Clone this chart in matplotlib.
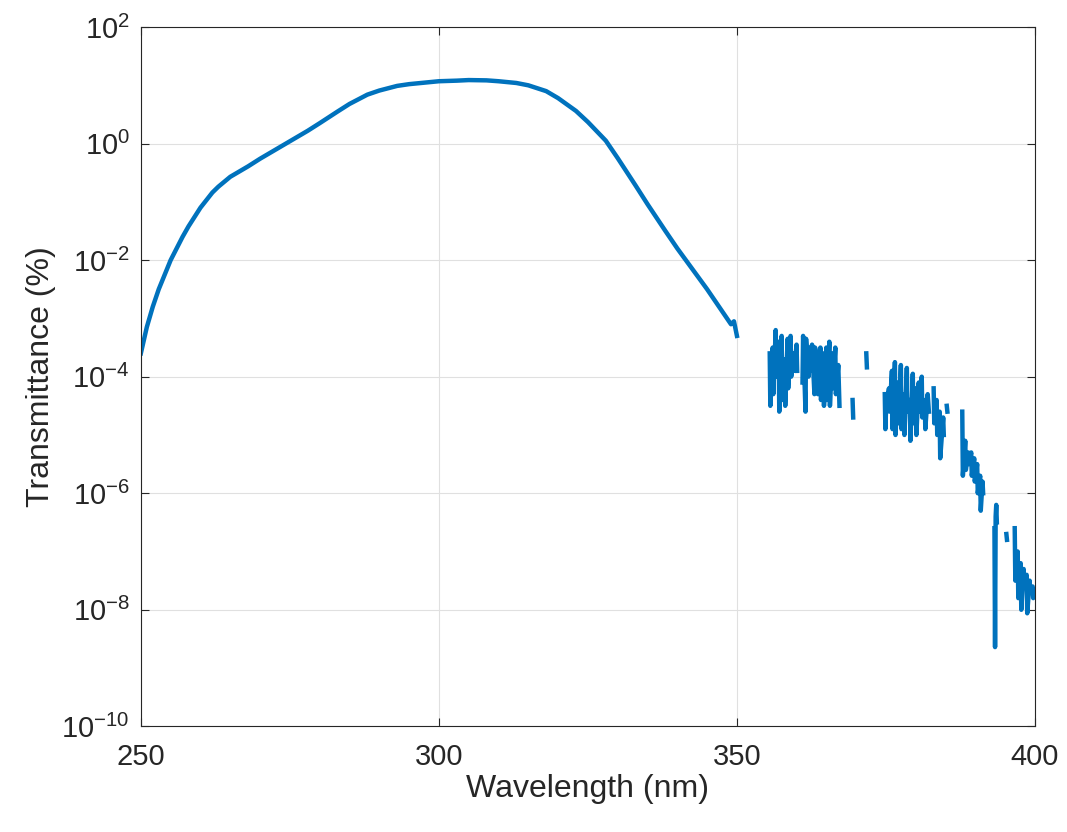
import numpy as np
import matplotlib.pyplot as plt

plt.rcParams['font.family'] = ['Liberation Sans', 'DejaVu Sans']

nan = np.nan

# smooth part, wavelength (nm) and log10 transmittance (%)
wl_main = [250, 251, 252, 253, 255, 257, 258, 260, 262, 263, 265, 268, 270, 273, 275, 278,
           280, 283, 285, 288, 290, 293, 295, 298, 300, 303, 305, 308, 310, 313, 315, 318,
           320, 323, 325, 328, 330, 333, 335, 338, 340, 343, 345, 347, 348, 349, 349.5, 350]
log_main = [-3.6, -3.15, -2.8, -2.5, -2.0, -1.6, -1.42, -1.1, -0.84, -0.74, -0.57, -0.39,
            -0.26, -0.08, 0.04, 0.22, 0.35, 0.55, 0.68, 0.84, 0.91, 0.99, 1.02, 1.05, 1.07,
            1.08, 1.09, 1.085, 1.07, 1.04, 1.0, 0.9, 0.78, 0.56, 0.37, 0.05, -0.25, -0.72,
            -1.04, -1.5, -1.8, -2.22, -2.5, -2.8, -2.95, -3.1, -3.05, -3.3]

# noisy tail, NaN marks gaps (non-positive readings)
wl_tail = [355.5, 355.6, 356, 356.1, 356.5, 356.6, 357, 357.1, 357.5, 357.6, 358, 358.1,
           358.5, 358.6, 359, 359.1, 359.5, 359.6, 360, 360.1, 360.5,
           361, 361.1, 361.5, 361.6, 362, 362.1, 362.5, 362.6, 363, 363.1, 363.5, 363.6,
           364, 364.1, 364.5, 364.6, 365, 365.1, 365.5, 365.6, 366, 366.1, 366.5, 366.6, 367, 367.2,
           367.5, 369.4, 369.5, 369.6, 371.7, 371.8, 371.9,
           374.8, 374.9, 375, 375.1, 375.5, 375.6, 376, 376.1, 376.5, 376.6, 377, 377.1, 377.5,
           377.6, 378, 378.1, 378.5, 378.6, 379, 379.1, 379.5, 379.6, 380, 380.1, 380.5, 380.6,
           381, 381.1, 381.5, 381.6, 382, 382.2, 382.5,
           383, 383.1, 383.5, 383.6, 384, 384.1, 384.6, 384.7, 384.9, 385.2, 385.3, 385.4,
           387.8, 387.9, 388.3, 388.4, 388.8, 388.9, 389.3, 389.4, 389.8, 389.9, 390.3, 390.4,
           390.8, 390.9, 391.2, 391.3, 392,
           393.2, 393.3, 393.4, 393.5, 393.6, 394, 395.2, 395.3, 395.4,
           396.6, 396.7, 397.1, 397.2, 397.6, 397.7, 398.1, 398.2, 398.6, 398.7, 399.1, 399.2,
           399.6, 399.7, 400]
log_tail = [-3.6, -4.5, -3.5, -4.3, -3.2, -4.0, -3.4, -4.6, -3.3, -4.4, -3.7, -4.5, -3.35,
            -4.2, -3.3, -4.0, -3.6, -3.9, -3.45, -3.9, nan,
            -4.1, -3.3, -4.6, -3.35, -4.0, -3.5, -3.9, -3.45, -4.3, -3.5, -3.7, -4.3, -3.5,
            -4.4, -3.6, -4.5, -3.5, -4.4, -3.4, -4.5, -3.6, -4.2, -3.5, -4.3, -3.8, -4.5,
            nan, -4.4, -4.7, nan, -3.6, -3.84, nan,
            -4.3, -4.9, -4.6, -4.5, -4.2, -4.6, -3.9, -4.9, -3.75, -5.0, -4.1, -4.8, -3.8,
            -4.9, -4.3, -5.0, -3.85, -4.6, -4.4, -5.1, -3.95, -4.8, -4.2, -5.0, -4.1, -4.6,
            -4.0, -4.7, -4.4, -4.9, -4.3, -4.6, nan,
            -4.2, -4.8, -4.4, -5.0, -4.6, -5.4, -4.7, -5.0, nan, -4.5, -4.6, nan,
            -4.6, -5.7, -5.1, -5.6, -5.3, -5.5, -5.3, -5.7, -5.4, -5.8, -5.5, -6.0, -5.7,
            -6.3, -5.8, -6.0, nan,
            -6.6, -8.64, -6.4, -6.2, -6.5, nan, -6.7, -6.8, nan,
            -6.6, -7.5, -7.0, -7.8, -7.2, -8.0, -7.3, -7.6, -7.4, -8.06, -7.5, -7.7, -7.6,
            -7.8, -7.65]

wl = wl_main + [nan] + wl_tail
tr = 10.0 ** np.array(log_main + [nan] + log_tail)

fig = plt.figure(figsize=(10.67, 8.32), dpi=100)
ax = fig.add_axes([0.132, 0.127, 0.838, 0.8405])
ax.semilogy(wl, tr, color='#0072BD', lw=3.2, solid_joinstyle='round')
ax.set_xlim(250, 400)
ax.set_ylim(1e-10, 1e2)
ax.set_yticks([10.0 ** k for k in range(-10, 3, 2)])
ax.minorticks_off()
ax.set_xticks([250, 300, 350, 400])
ax.grid(True, color='#e0e0e0', lw=0.8)
ax.tick_params(labelsize=21, direction='in', length=6, colors='#262626',
               top=True, right=True)
ax.tick_params(axis='x', pad=12)
ax.tick_params(axis='y', pad=8)
for s in ax.spines.values():
    s.set_color('#262626')
ax.set_xlabel('Wavelength (nm)', fontsize=23, color='#262626', labelpad=2)
ax.set_ylabel('Transmittance (%)', fontsize=23, color='#262626')
fig.savefig('out.png')
